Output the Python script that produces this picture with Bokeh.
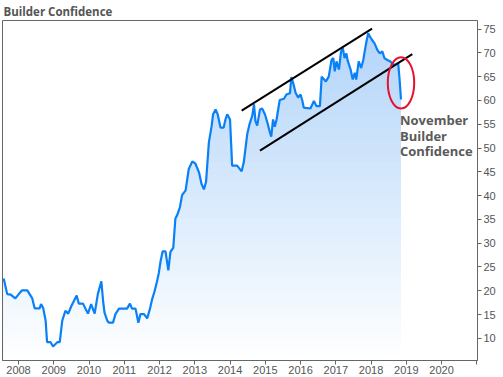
import numpy as np
from bokeh.plotting import figure
from bokeh.models import FixedTicker, Range1d
from bokeh.core.properties import value
from bokeh.embed import file_html
from bokeh.resources import INLINE

# ---- data (decimal year, index value) ----
dates = [
    2007.58, 2007.68, 2007.78, 2007.91, 2008.03, 2008.10, 2008.25, 2008.39, 2008.46, 2008.60,
    2008.64, 2008.70, 2008.77, 2008.81, 2008.91, 2008.98, 2009.10, 2009.17, 2009.24, 2009.33,
    2009.41, 2009.50, 2009.65, 2009.71, 2009.83, 2009.97, 2010.06, 2010.16, 2010.25, 2010.35,
    2010.40, 2010.44, 2010.52, 2010.56, 2010.68, 2010.75, 2010.85, 2011.08, 2011.16, 2011.22,
    2011.32, 2011.40, 2011.46, 2011.56, 2011.65, 2011.73, 2011.79, 2011.86, 2011.93, 2011.98,
    2012.03, 2012.09, 2012.17, 2012.25, 2012.31, 2012.39, 2012.45, 2012.50, 2012.58, 2012.64,
    2012.74, 2012.83, 2012.93, 2013.02, 2013.12, 2013.19, 2013.26, 2013.32, 2013.40, 2013.48,
    2013.52, 2013.59, 2013.65, 2013.73, 2013.82, 2013.87, 2013.92, 2014.00, 2014.06, 2014.20,
    2014.33, 2014.39, 2014.49, 2014.56, 2014.63, 2014.68, 2014.72, 2014.77, 2014.85, 2014.91,
    2014.99, 2015.06, 2015.13, 2015.17, 2015.22, 2015.27, 2015.32, 2015.41, 2015.53, 2015.60,
    2015.70, 2015.74, 2015.79, 2015.86, 2015.93, 2016.00, 2016.05, 2016.09, 2016.28, 2016.38,
    2016.45, 2016.55, 2016.60, 2016.72, 2016.80, 2016.88, 2016.93, 2016.97, 2017.02, 2017.09,
    2017.15, 2017.20, 2017.25, 2017.30, 2017.34, 2017.42, 2017.48, 2017.54, 2017.58, 2017.65,
    2017.72, 2017.78, 2017.82, 2017.87, 2017.92, 2017.97, 2018.03, 2018.10, 2018.18, 2018.25,
    2018.32, 2018.38, 2018.46, 2018.55, 2018.63, 2018.72, 2018.77, 2018.81, 2018.85,
]
values = [
    22.6, 19.3, 19.2, 18.4, 19.5, 20.1, 20.1, 18.4, 16.3, 16.3,
    17.2, 16.4, 13.7, 9.2, 9.2, 8.3, 9.2, 9.2, 13.7, 15.8,
    15.2, 16.8, 19.0, 17.3, 17.3, 15.2, 17.2, 15.2, 19.3, 22.0,
    17.8, 15.4, 13.7, 13.3, 13.3, 15.1, 16.25, 16.25, 17.3, 16.25,
    16.25, 13.3, 15.1, 15.1, 14.2, 16.25, 18.2, 19.9, 22.0, 23.75,
    26.2, 28.3, 28.3, 24.3, 28.2, 29.0, 35.2, 35.9, 37.6, 40.1,
    41.1, 45.6, 47.2, 46.7, 44.9, 42.5, 41.3, 42.9, 51.2, 54.7,
    57.1, 58.1, 57.1, 54.3, 54.3, 56.0, 57.1, 56.0, 46.3, 46.3,
    45.1, 47.0, 53.0, 55.2, 56.75, 59.2, 55.7, 54.7, 58.1, 58.3,
    57.1, 55.35, 53.3, 52.4, 56.0, 54.5, 56.0, 60.1, 60.35, 61.25,
    61.5, 64.9, 63.7, 61.6, 60.6, 61.25, 60.0, 58.5, 58.3, 59.9,
    58.8, 58.8, 65.0, 64.0, 65.0, 68.5, 68.9, 66.1, 68.2, 66.5,
    70.3, 71.0, 68.9, 69.9, 68.3, 66.5, 64.4, 65.8, 64.4, 68.2,
    66.8, 68.5, 70.3, 72.4, 74.1, 73.4, 72.7, 72.0, 70.6, 69.9,
    70.3, 68.9, 68.5, 68.2, 67.5, 67.6, 67.85, 64.4, 60.2,
]
year_ticks = list(range(2008, 2022))
value_ticks = list(range(10, 80, 5))

# annotations (data coordinates)
upper_trend_x = [2014.33, 2018.03]
upper_trend_y = [57.85, 75.08]
lower_trend_x = [2014.85, 2019.17]
lower_trend_y = [49.46, 69.73]
circle_x, circle_y = 2018.85, 63.7
circle_w, circle_h = 0.75, 10.8
note_lines = ["November", "Builder", "Confidence"]
note_x = 2018.82
note_y = [55.8, 52.55, 49.3]

X_LO, X_HI = 2007.546, 2021.02
Y_LO, Y_HI = 5.35, 76.8

p = figure(width=503, height=377, output_backend="svg", toolbar_location=None,
           x_range=Range1d(X_LO, X_HI), y_range=Range1d(Y_LO, Y_HI),
           y_axis_location="right", min_border_left=2, min_border_right=26,
           min_border_top=17, min_border_bottom=17)

p.title.text = "Builder Confidence"
p.title.text_font = "Open Sans"
p.title.text_font_size = "11.5px"
p.title.text_font_style = "bold"
p.title.text_color = "#555555"
p.title.offset = 1
p.title.standoff = 3

p.background_fill_color = "white"
p.border_fill_color = "white"
p.outline_line_color = "#666666"
p.outline_line_width = 1
p.xgrid.visible = False
p.ygrid.visible = False

# gradient area under the curve, drawn as stacked bands
t = np.array(dates)
v = np.array(values)
N = 60
edges = np.linspace(Y_LO, Y_HI, N + 1)
top_rgb = np.array([176, 211, 249])
white = np.array([255, 255, 255])
for k in range(N - 1, -1, -1):
    frac = ((edges[k] + edges[k + 1]) / 2 - Y_LO) / (Y_HI - Y_LO)
    c = white * (1 - frac) + top_rgb * frac
    col = "#%02x%02x%02x" % tuple(int(round(x)) for x in c)
    p.varea(x=t, y1=np.full_like(v, Y_LO), y2=np.minimum(v, edges[k + 1]),
            fill_color=col, fill_alpha=1.0)

p.line(t, v, line_color="#0a80f6", line_width=2.2)

p.segment(x0=[upper_trend_x[0], lower_trend_x[0]], y0=[upper_trend_y[0], lower_trend_y[0]],
          x1=[upper_trend_x[1], lower_trend_x[1]], y1=[upper_trend_y[1], lower_trend_y[1]],
          line_color="black", line_width=2)

p.ellipse(x=[circle_x], y=[circle_y], width=[circle_w], height=[circle_h],
          fill_color=None, line_color="#e8112d", line_width=2)

p.text(x=[note_x] * 3, y=note_y, text=note_lines, text_font=value("Open Sans"),
       text_font_size="13px", text_font_style="bold", text_color="#5a5a5a",
       text_baseline="middle", text_align="left")

# axes
xa = p.xaxis[0]
xa.ticker = FixedTicker(ticks=year_ticks)
xa.major_label_overrides = {2021: ""}
xa.minor_tick_line_color = None
xa.major_tick_in = 0
xa.major_tick_out = 4
xa.major_label_standoff = 1
xa.axis_line_color = "#666666"
xa.major_tick_line_color = "#666666"
xa.major_label_text_font = "Liberation Sans"
xa.major_label_text_font_size = "11px"
xa.major_label_text_color = "#555555"

ya = p.yaxis[0]
ya.ticker = FixedTicker(ticks=value_ticks)
ya.minor_tick_line_color = None
ya.major_tick_in = 0
ya.major_tick_out = 4
ya.major_label_standoff = 2
ya.axis_line_color = "#666666"
ya.major_tick_line_color = "#666666"
ya.major_label_text_font = "Liberation Sans"
ya.major_label_text_font_size = "11px"
ya.major_label_text_color = "#555555"

open("out.html", "w").write(file_html(p, INLINE))
